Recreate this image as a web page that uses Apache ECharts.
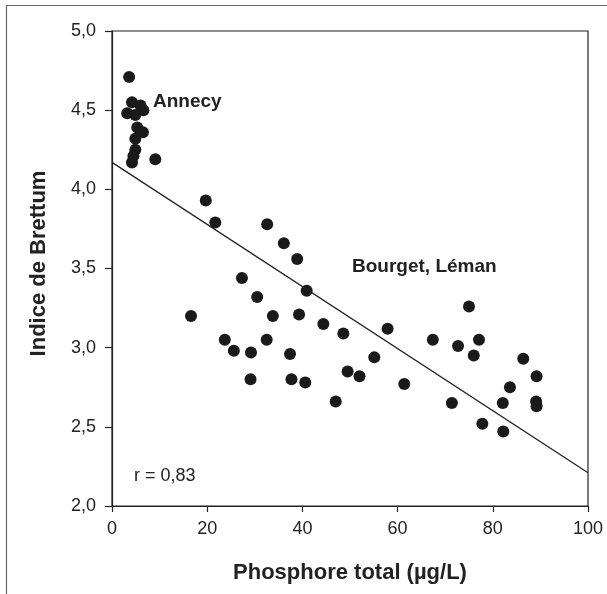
<!DOCTYPE html>
<html>
<head>
<meta charset="utf-8">
<script src="https://cdn.jsdelivr.net/npm/echarts@6/dist/echarts.min.js"></script>
<style>html,body{margin:0;padding:0;background:#fff;}#c{width:607px;height:594px;}</style>
</head>
<body>
<div id="c"></div>
<script>
// Data
const phosphore = [3.6, 4.2, 6.0, 6.6, 3.2, 4.9, 5.3, 6.5, 4.9, 4.9, 4.5, 4.2, 9.1,
  19.7, 21.7, 32.6, 36.1, 38.9, 27.3, 40.9, 30.5, 16.6, 33.8, 39.3, 44.4, 48.6, 57.9,
  23.7, 32.5, 55.1, 25.6, 29.2, 37.4, 29.1, 37.7, 40.6, 49.5, 52.0, 47.0, 61.4, 67.4,
  71.4, 75.0, 72.7, 77.1, 76.0, 77.8, 82.1, 82.2, 83.6, 86.4, 89.2, 89.1, 89.2];
const brettum = [4.71, 4.55, 4.53, 4.50, 4.48, 4.47, 4.39, 4.36, 4.32, 4.25, 4.21, 4.17, 4.19,
  3.93, 3.79, 3.78, 3.66, 3.56, 3.44, 3.36, 3.32, 3.20, 3.20, 3.21, 3.15, 3.09, 3.12,
  3.05, 3.05, 2.94, 2.98, 2.97, 2.96, 2.80, 2.80, 2.78, 2.85, 2.82, 2.66, 2.77, 3.05,
  2.65, 3.26, 3.01, 3.05, 2.95, 2.52, 2.65, 2.47, 2.75, 2.93, 2.82, 2.66, 2.63];
const regX = [0, 100];
const regY = [4.17, 2.21];
const xTicks = [0, 20, 40, 60, 80, 100];
const yTicks = [2.0, 2.5, 3.0, 3.5, 4.0, 4.5, 5.0];
const xTitle = 'Phosphore total (µg/L)';
const yTitle = 'Indice de Brettum';
const annotations = ['Annecy', 'Bourget, Léman', 'r = 0,83'];

const points = phosphore.map((x, i) => [x, brettum[i]]);
const regLine = regX.map((x, i) => [x, regY[i]]);
const FONT = '"Liberation Sans", Arial, sans-serif';
const INK = '#222';

const chart = echarts.init(document.getElementById('c'), null, {renderer: 'canvas'});
chart.setOption({
  animation: false,
  backgroundColor: '#fff',
  grid: {left: 112, top: 31, right: 19, bottom: 88, show: true, borderColor: INK, borderWidth: 1.2, backgroundColor: 'transparent'},
  xAxis: {
    type: 'value', min: xTicks[0], max: xTicks[xTicks.length - 1], interval: 20,
    name: xTitle, nameLocation: 'middle', nameGap: 56,
    nameTextStyle: {fontFamily: FONT, fontSize: 22, fontWeight: 'bold', color: INK},
    axisLine: {show: true, lineStyle: {color: INK, width: 1.2}},
    axisTick: {show: true, length: 6, lineStyle: {color: INK, width: 1.2}},
    axisLabel: {fontFamily: FONT, fontSize: 18, color: INK, margin: 14},
    splitLine: {show: false}
  },
  yAxis: {
    type: 'value', min: yTicks[0], max: yTicks[yTicks.length - 1], interval: 0.5,
    name: yTitle, nameLocation: 'middle', nameGap: 62,
    nameTextStyle: {fontFamily: FONT, fontSize: 22, fontWeight: 'bold', color: INK, padding: [0, 0, 0, 10]},
    axisLine: {show: true, lineStyle: {color: INK, width: 1.2}},
    axisTick: {show: true, length: 7, lineStyle: {color: INK, width: 1.2}},
    axisLabel: {fontFamily: FONT, fontSize: 18, color: INK, margin: 16,
      formatter: v => v.toFixed(1).replace('.', ',')},
    splitLine: {show: false}
  },
  series: [
    {
      type: 'line', data: regLine, symbol: 'none', silent: true,
      lineStyle: {color: INK, width: 1.3}
    },
    {
      type: 'scatter', data: points, symbol: 'circle', symbolSize: 12,
      itemStyle: {color: '#1a1a1a', opacity: 1}
    }
  ],
  graphic: [
    {type: 'rect', shape: {x: 6.5, y: 5.5, width: 700, height: 700}, style: {fill: 'none', stroke: '#666', lineWidth: 1.2}, silent: true},
    {type: 'text', left: 153, top: 92, style: {text: annotations[0], font: 'bold 19px ' + FONT, fill: INK}},
    {type: 'text', left: 352, top: 257, style: {text: annotations[1], font: 'bold 19px ' + FONT, fill: INK}},
    {type: 'text', left: 134, top: 467, style: {text: annotations[2], font: '18px ' + FONT, fill: INK}}
  ]
});
</script>
</body>
</html>
